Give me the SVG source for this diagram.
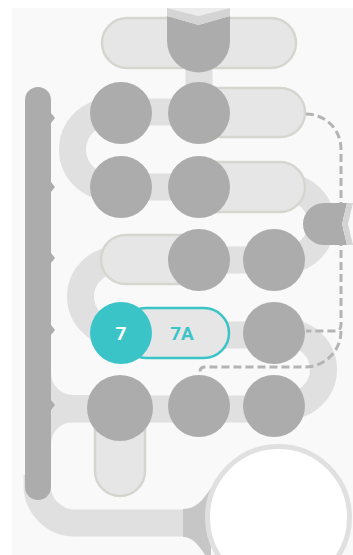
<svg xmlns="http://www.w3.org/2000/svg" width="353" height="555" viewBox="0 0 353 555">
<style>
.link{fill:none;stroke:#e0e0e0;stroke-width:27}
.pill{fill:#e6e6e6;stroke:#d6d6d0;stroke-width:2.5}
.stop{fill:#acacac}
.dash{fill:none;stroke:#b4b4b4;stroke-width:3;stroke-dasharray:8 4}
.chev{fill:#d4d4d4}
.lbl{font-family:Roboto,"Liberation Sans",sans-serif;font-weight:bold;font-size:19px;text-anchor:middle}
</style>
<rect x="0" y="0" width="353" height="555" fill="#ffffff"/>
<rect x="12" y="8" width="341" height="547" fill="#f9f9f9"/>
<g id="connectors">
<path class="link" d="M199,60 L199,100"/>
<path class="link" d="M121,112 L230,112"/>
<path class="link" d="M121,112 L110,112 A37,37 0 0 0 110,187 L121,187"/>
<path class="link" d="M121,187 L230,187"/>
<path class="link" d="M270,187 L285,187 A36.5,36.5 0 0 1 285,260 L274,260"/>
<path class="link" d="M199,260 L274,260"/>
<path class="link" d="M120,260 L117,260 A36.5,36.5 0 0 0 117,333 L121,333"/>
<path class="link" d="M200,335 L274,335"/>
<path class="link" d="M274,333 L287,333 A36.5,36.5 0 0 1 287,406 L274,406"/>
<path class="link" d="M51,409 L274,409"/>
<path d="M51,373 A22,22 0 0 0 73,395 L90,395 L90,422 L73,422 A22,22 0 0 0 51,444 Z" fill="#e0e0e0"/>
<path class="link" d="M37,475 L37,485 A38,38 0 0 0 75,523 L190,523"/>
<path d="M183,509 C196,509 203,500 211,488 L211,555 L205,555 C199,545 192,537 183,537 Z" fill="#c6c6c6"/>
</g>
<g id="pills">
<rect class="pill" x="102" y="18" width="194" height="50" rx="25"/>
<rect class="pill" x="180" y="88" width="125" height="49" rx="24.5"/>
<rect class="pill" x="180" y="162" width="125" height="50" rx="25"/>
<rect class="pill" x="101" y="235" width="120" height="49" rx="24.5"/>
<rect class="pill" x="95" y="400" width="50" height="96" rx="25"/>
</g>
<g id="dashed">
<path class="dash" d="M306,114 A35,35 0 0 1 341,149 L341,325 Q341,331 335,331 L306,331"/>
<path class="dash" d="M341,331 A36,36 0 0 1 305,367 L205,367 Q200,367 200,372 L200,377"/>
</g>
<g id="node-top">
<path class="stop" d="M167,16 L198.5,25 L230,16 L230,41 A31.5,31.5 0 0 1 167,41 Z"/>
<polygon points="167,8 198.5,16 230,8" fill="#ececec"/>
<polygon class="chev" points="167,8 198.5,16 230,8 230,16 198.5,25 167,16"/>
</g>
<g id="node-right">
<path class="stop" d="M324,203 L347,203 L342,224 L347,245 L324,245 A21,21 0 0 1 324,203 Z"/>
<polygon class="chev" points="347,203 353,203 348,224 353,245 347,245 342,224"/>
</g>
<g id="bar-left">
<rect class="stop" x="25" y="87" width="26" height="413" rx="13"/>
<polygon class="stop" points="51,113 55,118 51,123"/>
<polygon class="stop" points="51,182 55,187 51,192"/>
<polygon class="stop" points="51,253 55,258 51,263"/>
<polygon class="stop" points="51,325 55,330 51,335"/>
<polygon class="stop" points="51,400 55,405 51,410"/>
</g>
<g id="stops">
<circle class="stop" cx="121" cy="113" r="31"/>
<circle class="stop" cx="199" cy="113" r="31"/>
<circle class="stop" cx="121" cy="187" r="31"/>
<circle class="stop" cx="199" cy="187" r="31"/>
<circle class="stop" cx="199" cy="260" r="31"/>
<circle class="stop" cx="274" cy="260" r="31"/>
<circle class="stop" cx="274" cy="333" r="31"/>
<circle class="stop" cx="120" cy="408" r="33"/>
<circle class="stop" cx="199" cy="406" r="31"/>
<circle class="stop" cx="274" cy="406" r="31"/>
</g>
<g id="node-7A">
<rect x="121" y="308" width="108" height="50" rx="25" fill="#e6e6e6" stroke="#3bc4c8" stroke-width="2.5"/>
<text class="lbl" x="182" y="339.5" fill="#3bc4c8">7A</text>
</g>
<g id="node-7">
<circle cx="121" cy="333" r="31" fill="#3bc4c8"/>
<text class="lbl" x="121" y="340" fill="#ffffff">7</text>
</g>
<g id="node-big">
<circle cx="278.5" cy="517.5" r="71" fill="#ffffff" stroke="#e0e0e0" stroke-width="5"/>
</g>
</svg>
